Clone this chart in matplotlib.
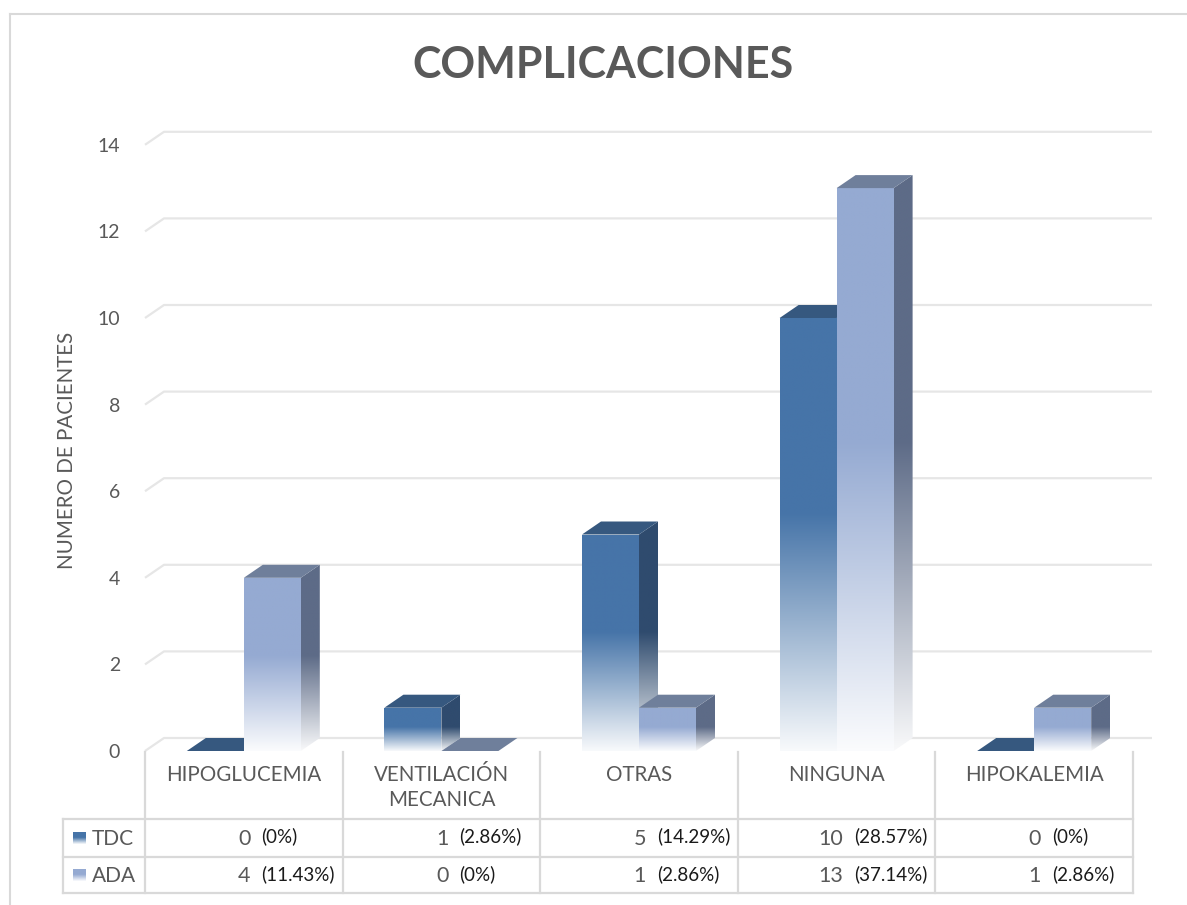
import numpy as np
import matplotlib
matplotlib.use("Agg")
import matplotlib.pyplot as plt
from matplotlib.patches import Polygon, Rectangle
from matplotlib.lines import Line2D
from matplotlib.colors import to_rgb

# Datos del cuadro
categorias = ["HIPOGLUCEMIA", "VENTILACIÓN\nMECANICA", "OTRAS", "NINGUNA", "HIPOKALEMIA"]
series = ["TDC", "ADA"]
tdc = [0, 1, 5, 10, 0]
ada = [4, 0, 1, 13, 1]
tdc_pct = ["(0%)", "(2.86%)", "(14.29%)", "(28.57%)", "(0%)"]
ada_pct = ["(11.43%)", "(0%)", "(2.86%)", "(37.14%)", "(2.86%)"]
yticks = [0, 2, 4, 6, 8, 10, 12, 14]

plt.rcParams['font.family'] = ['Lato', 'DejaVu Sans']
GRIS = "#595959"
LINEA = "#D9D9D9"

# colores: frente, tapa, lateral
col_tdc = ("#4674A8", "#36587F", "#2F4B6E")
col_ada = ("#95AAD2", "#6F7F9B", "#5D6B87")

W, H = 1187, 905
fig = plt.figure(figsize=(W / 100, H / 100), dpi=100)


def caja(left, top, right, bottom):
    return [left / W, 1 - bottom / H, (right - left) / W, (bottom - top) / H]


# escala en pixeles: x en categorias, y en pacientes (plano frontal)
X0, CW = 145, 197.6
Y0, UH = 751, 43.3
DX, DY = 19 / CW, 13 / UH   # profundidad 3D
BW = 57 / CW                # ancho de columna

xmin, xmax = -0.1, 5.15
ymin, ymax = -0.35, 14.6
ax = fig.add_axes(caja(X0 + CW * xmin, Y0 - UH * ymax, X0 + CW * xmax, Y0 - UH * ymin))
ax.patch.set_alpha(0)


def degradado(color, ys, v, n=256):
    t = np.clip(ys / v, 0, 1)
    w = np.clip((0.55 - t) / 0.55, 0, 1) * 0.96
    c = np.array(to_rgb(color))
    rgb = c[None, :] * (1 - w[:, None]) + w[:, None]
    return rgb[:, None, :]


def columna(x0, v, cols, z):
    frente, tapa, lado = cols
    x1 = x0 + BW
    if v > 0:
        ys = np.linspace(v + DY, 0, 256)
        p = Polygon([(x1, 0), (x1 + DX, DY), (x1 + DX, v + DY), (x1, v)],
                    closed=True, fc="none", ec="none", zorder=z)
        ax.add_patch(p)
        im = ax.imshow(degradado(lado, ys, v), extent=(x1, x1 + DX, 0, v + DY),
                       aspect="auto", origin="upper", zorder=z, interpolation="bilinear")
        im.set_clip_path(p)
        ys = np.linspace(v, 0, 256)
        r = Rectangle((x0, 0), BW, v, fc="none", ec="none", zorder=z + 0.1)
        ax.add_patch(r)
        im = ax.imshow(degradado(frente, ys, v), extent=(x0, x1, 0, v),
                       aspect="auto", origin="upper", zorder=z + 0.1, interpolation="bilinear")
        im.set_clip_path(r)
    ax.add_patch(Polygon([(x0, v), (x1, v), (x1 + DX, v + DY), (x0 + DX, v + DY)],
                         closed=True, fc=tapa, ec="none", zorder=z + 0.2))


# lineas de division en la pared del fondo
for v in yticks:
    ax.plot([0, DX, 5 + DX], [v, v + DY, v + DY], color="#E6E6E6", lw=1.6,
            zorder=0, clip_on=False, solid_capstyle="butt")

z = 1
for i, (t, a) in enumerate(zip(tdc, ada)):
    c = i + 0.5
    columna(c - BW, t, col_tdc, z)
    columna(c, a, col_ada, z + 1)
    z += 2

ax.set_xlim(xmin, xmax)
ax.set_ylim(ymin, ymax)
ax.set_xticks([])
ax.set_yticks(yticks)
ax.set_yticklabels([str(v) for v in yticks], fontsize=14, color=GRIS)
ax.tick_params(axis="y", length=0, pad=3.6)
for s in ax.spines.values():
    s.set_visible(False)

fig.text(67 / W, 1 - 450 / H, "NUMERO DE PACIENTES", rotation=90, ha="center",
         va="center", fontsize=14.8, color=GRIS)
fig.text(603 / W, 1 - 65 / H, "COMPLICACIONES", ha="center", va="center",
         fontsize=31, fontweight="bold", color=GRIS)

# tabla de datos
T_TOP, T_BOT = 752, 893
txmin = -0.45
tax = fig.add_axes(caja(X0 + CW * txmin, T_TOP, X0 + CW * xmax, T_BOT))
tax.set_xlim(txmin, xmax)
tax.set_ylim(T_BOT - T_TOP, 0)
tax.axis("off")

xl = (63 - X0) / CW
fila1, fila2, fin = 819 - T_TOP, 857 - T_TOP, T_BOT - T_TOP
for k in range(len(categorias) + 1):
    tax.plot([k, k], [0, fin], color=LINEA, lw=1.6, clip_on=False)
tax.plot([xl, xl], [fila1, fin], color=LINEA, lw=1.6, clip_on=False)
for yy in (fila1, fila2, fin):
    tax.plot([xl, len(categorias)], [yy, yy], color=LINEA, lw=1.6, clip_on=False)

for i, cat in enumerate(categorias):
    tax.text(i + 0.5, 13, cat, ha="center", va="top", fontsize=14.8, color=GRIS,
             linespacing=1.3)

yc1, yc2 = (fila1 + fila2) / 2, (fila2 + fin) / 2
for i in range(len(categorias)):
    tax.text(i + 0.535, yc1 + 1, str(tdc[i]), ha="right", va="center", fontsize=15.5, color=GRIS)
    tax.text(i + 0.59, yc1 - 1.5, tdc_pct[i], ha="left", va="center", fontsize=13.5, color="#1A1A1A")
    tax.text(i + 0.535, yc2 + 1, str(ada[i]), ha="right", va="center", fontsize=15.5, color=GRIS)
    tax.text(i + 0.59, yc2 - 0.5, ada_pct[i], ha="left", va="center", fontsize=13.5, color="#1A1A1A")

# claves de la leyenda
kx0, kx1 = (73 - X0) / CW, (86 - X0) / CW
for yc, nombre, cols in ((yc1, series[0], col_tdc), (yc2, series[1], col_ada)):
    tax.imshow(degradado(cols[0], np.linspace(1, 0, 64), 1.0), extent=(kx0, kx1, yc + 6, yc - 6),
               aspect="auto", origin="upper", interpolation="bilinear")
    tax.text((92 - X0) / CW, yc + 0.5, nombre, ha="left", va="center", fontsize=15, color=GRIS)
tax.set_xlim(txmin, xmax)
tax.set_ylim(T_BOT - T_TOP, 0)

# marco del grafico
fig.add_artist(Line2D([10 / W, 10 / W], [0, 1 - 14 / H], color=LINEA, lw=1.5))
fig.add_artist(Line2D([10 / W, 1], [1 - 14 / H, 1 - 14 / H], color=LINEA, lw=1.5))

fig.savefig("out.png", dpi=100)
